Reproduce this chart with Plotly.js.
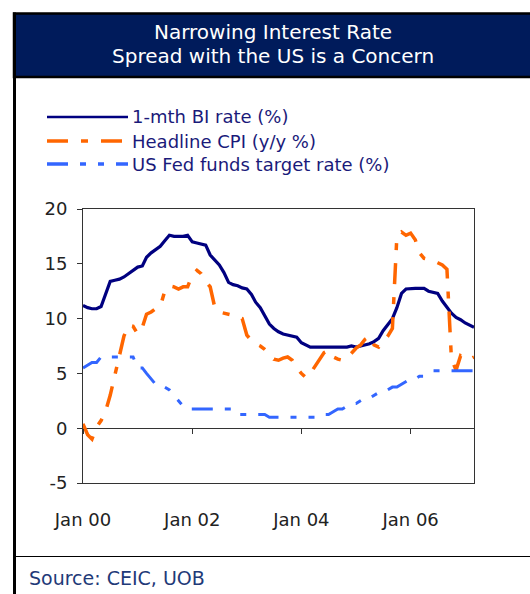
<!DOCTYPE html>
<html>
<head>
<meta charset="utf-8">
<script src="https://cdn.plot.ly/plotly-3.0.1.min.js"></script>
<style>html,body{margin:0;padding:0;background:#fff;}#chart{width:530px;height:594px;}</style>
</head>
<body>
<div id="chart"></div>
<script>
// Monthly data, Jan 2000 .. Mar 2007
const startYear = 2000, startMonth = 1;
const biRate = [11.2,11.0,10.9,10.9,11.1,12.2,13.4,13.5,13.6,13.8,14.1,14.4,
  14.7,14.8,15.6,16.0,16.3,16.6,17.1,17.6,17.5,17.5,17.5,17.6,
  17.0,16.9,16.8,16.7,15.8,15.3,14.9,14.2,13.3,13.1,13.0,12.8,
  12.7,12.2,11.5,11.0,10.2,9.5,9.1,8.8,8.6,8.5,8.4,8.3,
  7.8,7.6,7.4,7.4,7.4,7.4,7.4,7.4,7.4,7.4,7.4,7.5,
  7.4,7.5,7.6,7.7,7.9,8.2,8.9,9.4,10.0,11.0,12.3,12.7,
  12.75,12.75,12.75,12.75,12.5,12.4,12.3,11.6,11.0,10.5,10.1,9.9,
  9.6,9.4,9.2];
const cpi = [0.4,-0.6,-1.0,0.1,0.7,1.6,3.0,4.8,6.8,8.4,9.4,9.3,
  8.6,9.2,10.4,10.6,10.9,11.1,12.5,13.0,12.9,12.7,12.9,12.9,
  14.0,14.4,14.1,13.4,12.9,11.0,10.6,10.5,10.4,10.3,10.1,10.0,
  8.5,8.0,7.7,7.5,7.2,6.8,6.3,6.2,6.4,6.5,6.2,5.5,
  5.0,4.6,5.0,5.6,6.3,6.9,7.1,6.5,6.3,6.2,6.4,6.8,
  7.3,7.6,8.1,8.4,7.6,7.4,7.9,8.4,9.1,17.5,17.9,17.6,
  17.8,17.2,16.0,15.5,15.4,15.3,15.1,14.9,14.5,6.3,5.3,6.6,
  6.3,6.3,6.5];
const fedFunds = [5.5,5.75,6.0,6.0,6.5,6.5,6.5,6.5,6.5,6.5,6.5,6.5,
  5.5,5.5,5.0,4.5,4.0,3.75,3.75,3.5,3.0,2.5,2.0,1.75,
  1.75,1.75,1.75,1.75,1.75,1.75,1.75,1.75,1.75,1.75,1.25,1.25,
  1.25,1.25,1.25,1.25,1.25,1.0,1.0,1.0,1.0,1.0,1.0,1.0,
  1.0,1.0,1.0,1.0,1.0,1.25,1.25,1.5,1.75,1.75,2.0,2.25,
  2.25,2.5,2.75,2.75,3.0,3.25,3.25,3.5,3.75,3.75,4.0,4.25,
  4.5,4.5,4.75,4.75,5.0,5.25,5.25,5.25,5.25,5.25,5.25,5.25,
  5.25,5.25,5.25];
const seriesNames = ['1-mth BI rate (%)','Headline CPI (y/y %)','US Fed funds target rate (%)'];
const titleLines = ['Narrowing Interest Rate','Spread with the US is a Concern'];
const sourceText = 'Source: CEIC, UOB';
const yTicks = [-5,0,5,10,15,20];
const yTickText = ['-5','0','5','10','15','20'];

const dates = biRate.map((_, i) => {
  const y = startYear + Math.floor((startMonth - 1 + i) / 12);
  const m = ((startMonth - 1 + i) % 12) + 1;
  return y + '-' + String(m).padStart(2, '0') + '-01';
});
const xRange = [dates[0], dates[dates.length - 1]];

const FONT = '"DejaVu Sans", "Open Sans", sans-serif';
const NAVY = '#000080', ORANGE = '#ff6600', BLUE = '#3366ff';
const cpiDash = '21px,13px,7px,13px';
const fedDash = '21px,12px,6px,12px,6px,12px';

// plot area in pixels: x 83..474, y 209..483
const L = 83, R = 474, T = 209, B = 483;
const PX = p => (p - L) / (R - L);
const PY = p => (B - p) / (B - T);

const traces = [
  {x: dates, y: biRate, name: seriesNames[0], type: 'scatter', mode: 'lines',
   line: {color: NAVY, width: 3.2}},
  {x: dates, y: cpi, name: seriesNames[1], type: 'scatter', mode: 'lines',
   line: {color: ORANGE, width: 3.5, dash: cpiDash}},
  {x: dates, y: fedFunds, name: seriesNames[2], type: 'scatter', mode: 'lines', xaxis: 'x2',
   line: {color: BLUE, width: 3, dash: fedDash}}
];

const legendY = [117, 141, 164];
const legendStyles = [
  {color: NAVY, width: 2.5, dash: 'solid'},
  {color: ORANGE, width: 3.5, dash: cpiDash},
  {color: BLUE, width: 3.5, dash: fedDash}
];

const shapes = [
  {type: 'rect', xref: 'paper', yref: 'paper', x0: PX(14), x1: PX(535), y0: PY(77), y1: PY(13.5),
   fillcolor: '#001b5b', line: {color: '#000', width: 2.5}, layer: 'above'},
  {type: 'line', xref: 'paper', yref: 'paper', x0: PX(14.5), x1: PX(14.5), y0: PY(12.5), y1: PY(600),
   line: {color: '#000', width: 3}},
  {type: 'line', xref: 'paper', yref: 'paper', x0: PX(14), x1: PX(535), y0: PY(556.5), y1: PY(556.5),
   line: {color: '#000', width: 1}}
];
legendY.forEach((ly, i) => {
  shapes.push({type: 'line', xref: 'paper', yref: 'paper', x0: PX(47), x1: PX(128), y0: PY(ly), y1: PY(ly),
    line: legendStyles[i]});
});

const annotations = [
  {text: titleLines[0], xref: 'paper', yref: 'paper', x: PX(273), y: PY(32), showarrow: false,
   font: {family: FONT, size: 20, color: '#fff'}, xanchor: 'center', yanchor: 'middle'},
  {text: titleLines[1], xref: 'paper', yref: 'paper', x: PX(273), y: PY(56), showarrow: false,
   font: {family: FONT, size: 20, color: '#fff'}, xanchor: 'center', yanchor: 'middle'},
  {text: sourceText, xref: 'paper', yref: 'paper', x: PX(27), y: PY(578), showarrow: false,
   font: {family: FONT, size: 19, color: '#1f3a78'}, xanchor: 'left', yanchor: 'middle'}
];
legendY.forEach((ly, i) => {
  annotations.push({text: seriesNames[i], xref: 'paper', yref: 'paper', x: PX(130), y: PY(ly),
    showarrow: false, xanchor: 'left', yanchor: 'middle',
    font: {family: FONT, size: 18, color: '#1a1a7a'}});
});

const layout = {
  width: 530, height: 594,
  margin: {l: L, r: 530 - R, t: T, b: 594 - B, pad: 0},
  paper_bgcolor: '#fff', plot_bgcolor: '#fff',
  showlegend: false,
  font: {family: FONT, size: 18, color: '#222'},
  xaxis: {type: 'date', range: xRange, showgrid: false, zeroline: false,
    showline: true, mirror: true, linecolor: '#333', linewidth: 1,
    ticks: '', tickformat: '%b %y', dtick: 'M24', tick0: dates[0],
    ticklabelstandoff: 20, tickfont: {family: FONT, size: 18, color: '#222'}},
  xaxis2: {type: 'date', range: xRange, overlaying: 'x', anchor: 'free', position: 0.2,
    showgrid: false, zeroline: false, showline: false,
    ticks: 'outside', ticklen: 5, tickcolor: '#333', tickwidth: 1,
    dtick: 'M24', tick0: dates[0], showticklabels: false},
  yaxis: {range: [-5, 20], tickvals: yTicks, ticktext: yTickText, showgrid: false,
    zeroline: true, zerolinecolor: '#333', zerolinewidth: 1,
    showline: true, mirror: true, linecolor: '#333', linewidth: 1,
    ticks: 'outside', ticklen: 5, tickcolor: '#333', ticklabelstandoff: 6,
    tickfont: {family: FONT, size: 18, color: '#222'}},
  shapes: shapes,
  annotations: annotations
};

Plotly.newPlot('chart', traces, layout, {displayModeBar: false, staticPlot: true});
</script>
</body>
</html>
